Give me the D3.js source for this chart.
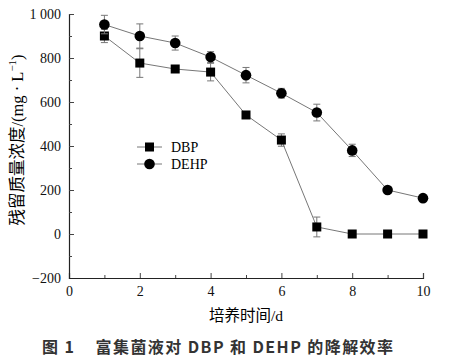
<!DOCTYPE html>
<html>
<head>
<meta charset="utf-8">
<script src="https://cdn.jsdelivr.net/npm/d3@7"></script>
<style>
  body { margin: 0; background: #fff; }
  svg text { font-family: "Liberation Serif", "Times New Roman", serif; }
</style>
</head>
<body>
<div id="chart"></div>
<script>
const days = [1, 2, 3, 4, 5, 6, 7, 8, 9, 10];
const dbpValues = [900, 777, 750, 736, 541, 427, 32, 0, 0, 0];
const dbpErrors = [30, 65, 10, 40, 15, 28, 45, 0, 0, 0];
const dehpValues = [952, 900, 868, 804, 722, 640, 552, 380, 200, 163];
const dehpErrors = [42, 55, 32, 25, 35, 22, 38, 28, 15, 10];
const xTicks = [0, 2, 4, 6, 8, 10];
const yTicks = [-200, 0, 200, 400, 600, 800, 1000];
const yTickLabels = ["\u2212200", "0", "200", "400", "600", "800", "1 000"];

const width = 459, height = 359;
const margin = { left: 69, right: 36, top: 14, bottom: 81 };

const svg = d3.select("#chart").append("svg")
    .attr("width", width)
    .attr("height", height);

const x = d3.scaleLinear().domain([0, 10]).range([margin.left, width - margin.right]);
const y = d3.scaleLinear().domain([-200, 1000]).range([height - margin.bottom, margin.top]);

// axes, ticks inward
const xAxis = svg.append("g")
    .attr("transform", `translate(0,${y(-200)})`)
    .call(d3.axisBottom(x).tickValues(xTicks).tickSize(-5).tickPadding(8).tickFormat(d3.format("d")));
xAxis.selectAll(".tick")
    .filter(d => d === 0)
    .select("line").remove();
svg.append("g")
    .attr("transform", `translate(0,${y(-200)})`)
    .call(d3.axisBottom(x).tickValues([1, 3, 5, 7, 9]).tickSize(-3).tickFormat(""))
    .select(".domain").remove();

const yAxis = svg.append("g")
    .attr("transform", `translate(${x(0)},0)`)
    .call(d3.axisLeft(y).tickValues(yTicks).tickSize(-5).tickPadding(8)
        .tickFormat((d, i) => yTickLabels[i]));
yAxis.selectAll(".tick").filter(d => d === -200).select("line").remove();
svg.append("g")
    .attr("transform", `translate(${x(0)},0)`)
    .call(d3.axisLeft(y).tickValues([-100, 100, 300, 500, 700, 900]).tickSize(-3).tickFormat(""))
    .select(".domain").remove();

svg.selectAll(".domain").attr("stroke", "#222").attr("stroke-width", 1.2);
svg.selectAll(".tick line").attr("stroke", "#444");
svg.selectAll(".tick text")
    .attr("font-size", 14)
    .attr("fill", "#111")
    .style("font-family", "'Liberation Serif', serif");

const series = [
    { name: "DBP", values: dbpValues, errors: dbpErrors, shape: "square" },
    { name: "DEHP", values: dehpValues, errors: dehpErrors, shape: "circle" }
];

const line = d3.line()
    .x(d => x(d.day))
    .y(d => y(d.value));

series.forEach(s => {
    const pts = days.map((d, i) => ({ day: d, value: s.values[i], err: s.errors[i] }));

    svg.append("path")
        .datum(pts)
        .attr("d", line)
        .attr("fill", "none")
        .attr("stroke", "#777")
        .attr("stroke-width", 1);

    const eb = svg.append("g").selectAll("g")
        .data(pts.filter(p => p.err > 0))
        .join("g")
        .attr("stroke", "#777")
        .attr("stroke-width", 1);
    eb.append("line")
        .attr("x1", d => x(d.day)).attr("x2", d => x(d.day))
        .attr("y1", d => y(d.value + d.err)).attr("y2", d => y(d.value - d.err));
    eb.append("line")
        .attr("x1", d => x(d.day) - 3.5).attr("x2", d => x(d.day) + 3.5)
        .attr("y1", d => y(d.value + d.err)).attr("y2", d => y(d.value + d.err));
    eb.append("line")
        .attr("x1", d => x(d.day) - 3.5).attr("x2", d => x(d.day) + 3.5)
        .attr("y1", d => y(d.value - d.err)).attr("y2", d => y(d.value - d.err));

    if (s.shape === "square") {
        svg.append("g").selectAll("rect")
            .data(pts)
            .join("rect")
            .attr("x", d => x(d.day) - 4.5)
            .attr("y", d => y(d.value) - 4.5)
            .attr("width", 9)
            .attr("height", 9)
            .attr("fill", "#000");
    } else {
        svg.append("g").selectAll("circle")
            .data(pts)
            .join("circle")
            .attr("cx", d => x(d.day))
            .attr("cy", d => y(d.value))
            .attr("r", 5.3)
            .attr("fill", "#000");
    }
});

// legend
const legend = svg.append("g").attr("transform", "translate(137,147)");
series.forEach((s, i) => {
    const g = legend.append("g").attr("transform", `translate(0,${i * 17})`);
    g.append("line").attr("x1", 0).attr("x2", 25).attr("stroke", "#777");
    if (s.shape === "square") {
        g.append("rect").attr("x", 8).attr("y", -4.5).attr("width", 9).attr("height", 9).attr("fill", "#000");
    } else {
        g.append("circle").attr("cx", 12.5).attr("r", 5.3).attr("fill", "#000");
    }
    g.append("text")
        .attr("x", 34).attr("y", 5)
        .attr("font-size", 14)
        .text(s.name);
});

// axis titles
svg.append("text")
    .attr("transform", "translate(23,140) rotate(-90)")
    .attr("text-anchor", "middle")
    .attr("font-size", 16.5)
    .style("font-family", "'Liberation Serif', 'Noto Sans CJK SC', serif")
    .html("残留质量浓度/(mg · L<tspan dy='-7' font-size='11'>\u22121</tspan><tspan dy='7'>)</tspan>");

svg.append("text")
    .attr("x", (x(0) + x(10)) / 2)
    .attr("y", 321)
    .attr("text-anchor", "middle")
    .attr("font-size", 15.5)
    .style("font-family", "'Liberation Serif', 'Noto Sans CJK SC', serif")
    .text("培养时间/d");

svg.append("text")
    .attr("x", 42)
    .attr("y", 353)
    .attr("font-size", 16)
    .attr("font-weight", "bold")
    .attr("fill", "#333")
    .attr("textLength", 351)
    .attr("lengthAdjust", "spacing")
    .style("font-family", "'Noto Sans CJK SC', sans-serif")
    .attr("xml:space", "preserve")
    .text("图 1    富集菌液对 DBP 和 DEHP 的降解效率");
</script>
</body>
</html>
